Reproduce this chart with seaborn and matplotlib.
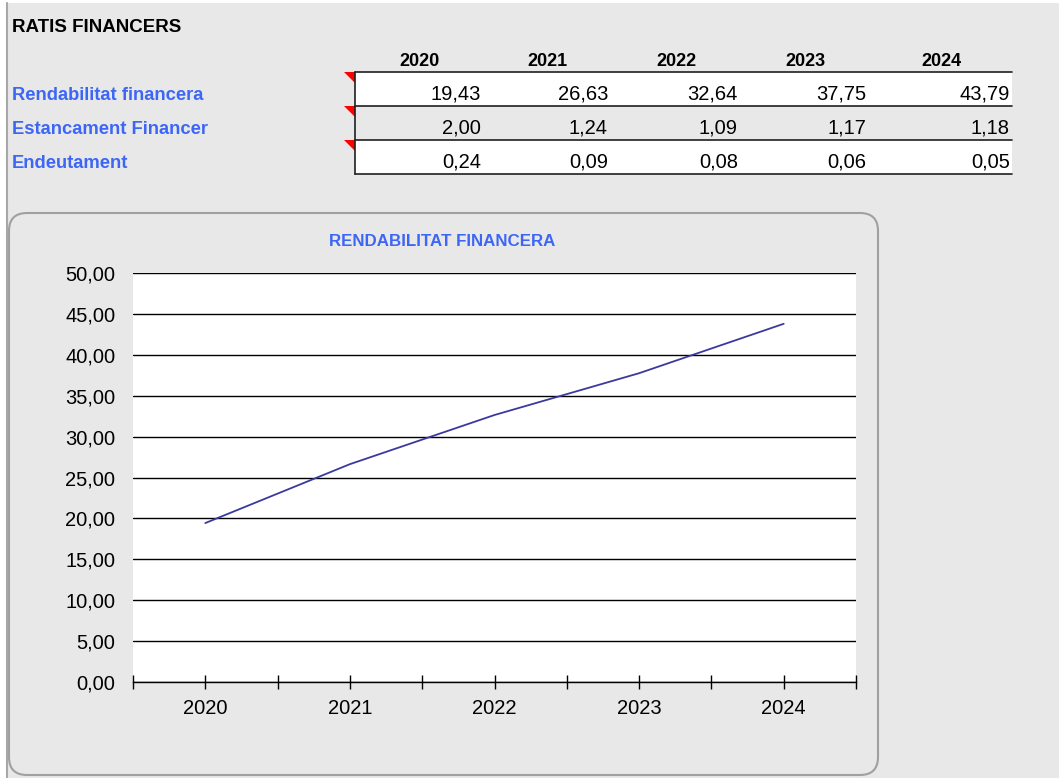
import matplotlib
matplotlib.use('Agg')
import matplotlib.pyplot as plt
import seaborn as sns
import pandas as pd
import numpy as np
from matplotlib.patches import FancyBboxPatch, Rectangle, Polygon
from matplotlib.lines import Line2D
from matplotlib.transforms import Affine2D

# ---------------- data ----------------
title = 'RATIS FINANCERS'
chart_title = 'RENDABILITAT FINANCERA'
years = ['2020', '2021', '2022', '2023', '2024']
row_labels = ['Rendabilitat financera', 'Estancament Financer', 'Endeutament']
rendabilitat = [19.43, 26.63, 32.64, 37.75, 43.79]
estancament = [2.00, 1.24, 1.09, 1.17, 1.18]
endeutament = [0.24, 0.09, 0.08, 0.06, 0.05]
y_ticks = [0, 5, 10, 15, 20, 25, 30, 35, 40, 45, 50]

table_rows = [rendabilitat, estancament, endeutament]

def fmt(v):
    return f'{v:.2f}'.replace('.', ',')

# ---------------- style ----------------
sns.set_theme(style='white')
REG = ['Liberation Sans', 'DejaVu Sans']
plt.rcParams['font.family'] = REG

BG = '#e8e8e8'
BLUE = '#3d66f5'
LINE = '#3a3a9e'

W, H = 1059, 778
fig = plt.figure(figsize=(W / 100, H / 100), dpi=100)
fig.patch.set_facecolor('white')
px = Affine2D().scale(1 / W, -1 / H).translate(0, 1) + fig.transFigure   # pixel, y from top
pxu = Affine2D().scale(1 / W, 1 / H) + fig.transFigure                   # pixel, y from bottom

# background sheet
fig.add_artist(Rectangle((7, 3), W - 7, H - 3, transform=px, facecolor=BG,
                         edgecolor='none', zorder=-5))
fig.add_artist(Line2D([7, 7], [3, H], transform=px, color='#a8a8a8', lw=1.5, zorder=-4))

# title
fig.text(12, 28, title, transform=px, fontweight='bold',
         fontsize=13.5, va='center', ha='left', color='black')

# ---------------- table ----------------
hdr_centers = [419, 547, 676, 805, 941]
val_right = [481, 608, 738, 866, 1010]
row_top = [72, 106, 140]
row_h = 34
tab_left, tab_right = 355, 1012

for i, yr in enumerate(years):
    fig.text(hdr_centers[i], 61.5, yr, transform=px, fontweight='bold',
             fontsize=13, ha='center', va='center', color='black')

for r, (lab, vals) in enumerate(zip(row_labels, table_rows)):
    top = row_top[r]
    if r != 1:
        fig.add_artist(Rectangle((tab_left, top), tab_right - tab_left, row_h, transform=px,
                                 facecolor='white', edgecolor='none', zorder=-3))
    fig.add_artist(Polygon([(344, top), (355, top), (355, top + 11)], closed=True,
                           transform=px, facecolor='#ff0000', edgecolor='none', zorder=2))
    fig.text(12, top + 23, lab, transform=px, fontweight='bold',
             fontsize=13.2, ha='left', va='center', color=BLUE)
    for c, v in enumerate(vals):
        fig.text(val_right[c], top + 22.5, fmt(v), transform=px,
                 fontsize=14.5, ha='right', va='center', color='black')

for y in [72, 106, 140, 174]:
    fig.add_artist(Line2D([tab_left, tab_right], [y, y], transform=px, color='#202020', lw=1.2))
fig.add_artist(Line2D([tab_left, tab_left], [72, 174], transform=px, color='#202020', lw=1.2))

# ---------------- chart box ----------------
bx0, bx1, by0, by1 = 9, 878, 213, 775
fig.add_artist(FancyBboxPatch((bx0, H - by1), bx1 - bx0, by1 - by0,
                              boxstyle='round,pad=0,rounding_size=18', transform=pxu,
                              facecolor=BG, edgecolor='#a0a0a0', lw=1.5, zorder=-2))
fig.text(442, 241, chart_title, transform=px, fontweight='bold',
         fontsize=12.2, ha='center', va='center', color=BLUE)

ax_l, ax_r, ax_t, ax_b = 133, 856, 273, 682
ax = fig.add_axes([ax_l / W, (H - ax_b) / H, (ax_r - ax_l) / W, (ax_b - ax_t) / H])
ax.set_facecolor('white')

df = pd.DataFrame({'pos': np.arange(len(years)), 'val': rendabilitat})
sns.lineplot(data=df, x='pos', y='val', ax=ax, color=LINE, linewidth=1.3)

ax.set_xlim(-0.5, len(years) - 0.5)
ax.set_ylim(y_ticks[0], y_ticks[-1])
ax.set_xticks(np.arange(len(years)))
ax.set_xticklabels(years)
ax.set_xticks(np.arange(-0.5, len(years), 1), minor=True)
ax.set_yticks(y_ticks)
ax.set_yticklabels([fmt(v) for v in y_ticks])
ax.set_xlabel('')
ax.set_ylabel('')

ax.tick_params(axis='x', which='both', direction='inout', length=10, width=1,
               color='black', labelsize=14.5, labelcolor='black', pad=7, bottom=True)
ax.tick_params(axis='y', length=0, labelsize=14.5, labelcolor='black', pad=12.7)
ax.grid(axis='y', color='black', linewidth=1)
ax.grid(axis='x', visible=False)
for s in ['top', 'right', 'left']:
    ax.spines[s].set_visible(False)
ax.spines['bottom'].set_color('black')
ax.spines['bottom'].set_linewidth(1)

fig.savefig('out.png', dpi=100, facecolor=fig.get_facecolor())
